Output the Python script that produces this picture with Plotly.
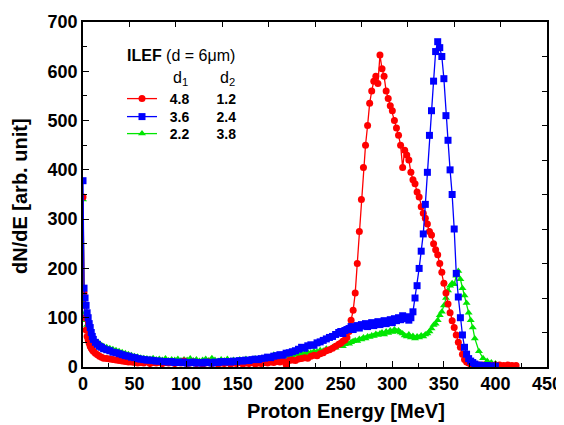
import plotly.graph_objects as go

# Energy grid (MeV)
energy = [0, 1, 2, 3, 4, 5, 6, 7, 8, 9, 10, 12, 14, 16, 18, 20,
          23, 26, 29, 32, 35, 38, 41, 44, 47, 50, 53, 56, 59, 62, 65, 68, 71, 74, 77, 80,
          83, 86, 89, 92, 95, 98, 101, 104, 107, 110, 113, 116, 119, 122, 125, 128, 131, 134, 137, 140,
          143, 146, 149, 152, 155, 158, 161, 164, 167, 170, 173, 176, 179, 182, 185, 188, 191, 194, 197, 200,
          203, 206, 209, 212, 215, 218, 221, 224, 227, 230, 233, 236, 239, 242, 245, 248,
          250, 252, 254, 256, 258, 260, 262, 264, 266, 268, 270, 272, 274, 276, 278, 280, 282, 284, 286, 288,
          290, 292, 294, 296, 298, 300, 302, 304, 306, 308, 310, 312, 314, 316, 318, 320, 322, 324, 326, 328,
          330, 332, 334, 336, 338, 340, 342, 344, 346, 348, 350, 352, 354, 356, 358, 360, 362, 364, 366, 368,
          370, 372, 374, 376, 378, 380,
          384, 388, 392, 396, 400, 404, 408, 412, 416, 420]

# d1 = 4.8, d2 = 1.2 (red)
red = [345, 150, 100, 75, 62, 55, 48, 42, 38, 35, 32, 28, 25, 22, 20, 18,
       17, 16, 15, 14, 13, 12, 11, 10, 10, 9, 8, 9, 8, 12, 7, 9, 8, 10, 7, 9,
       8, 10, 7, 9, 8, 12, 7, 8, 10, 7, 9, 6, 8, 10, 7, 9, 6, 8, 7, 9,
       6, 8, 7, 9, 6, 8, 7, 9, 6, 8, 7, 9, 8, 10, 9, 11, 10, 12, 5, 13,
       14, 13, 16, 17, 19, 18, 22, 24, 23, 27, 29, 33, 35, 38, 42, 46,
       48, 52, 55, 60, 72, 95, 115, 150, 210, 275, 340, 405, 450, 490, 535, 560, 580, 590, 575, 633,
       605, 590, 560, 545, 530, 520, 500, 485, 470, 450, 405, 440, 430, 420, 395, 380, 372, 355, 345, 325,
       312, 302, 290, 275, 268, 250, 238, 228, 210, 192, 170, 150, 128, 110, 94, 80, 65, 50, 40, 26,
       15, 10, 8, 6, 5, 5,
       4, 4, 3, 3, 4, 4, 3, 4, 3, 3]

# d1 = 3.6, d2 = 2.4 (blue)
blue = [378, 160, 140, 125, 110, 100, 88, 80, 70, 62, 56, 50, 46, 42, 40, 37,
        35, 33, 30, 29, 27, 25, 23, 22, 20, 19, 17, 16, 15, 14, 14, 13, 12, 12, 11, 11,
        10, 11, 9, 10, 9, 10, 8, 9, 10, 8, 9, 8, 10, 9, 8, 10, 9, 11, 10, 11,
        10, 12, 11, 13, 12, 14, 13, 15, 16, 15, 17, 18, 20, 19, 22, 23, 25, 24, 28, 29,
        31, 33, 36, 40, 38, 43, 45, 44, 49, 51, 54, 57, 60, 62, 66, 70,
        72, 68, 74, 76, 78, 82, 76, 80, 84, 79, 86, 83, 88, 82, 85, 90, 84, 88, 92, 86,
        90, 94, 88, 92, 96, 90, 98, 94, 100, 96, 104, 98, 102, 95, 100, 112, 140, 165, 200, 235,
        270, 330, 395, 470, 520, 580, 640, 660, 648, 630, 585, 510, 460, 400, 350, 280, 190, 142, 100, 65,
        40, 26, 17, 12, 9, 6,
        4, 3, 3, 2, 2, None, None, None, None, None]

# d1 = 2.2, d2 = 3.8 (green)
green = [340, 130, 110, 95, 85, 78, 72, 66, 62, 58, 55, 52, 50, 47, 44, 42,
         40, 38, 36, 34, 32, 30, 28, 26, 24, 22, 21, 19, 18, 17, 16, 18, 15, 16, 14, 17,
         13, 15, 14, 16, 13, 15, 14, 17, 13, 15, 12, 14, 16, 13, 18, 14, 12, 15, 13, 16,
         12, 14, 13, 15, 14, 16, 13, 15, 17, 14, 16, 18, 15, 19, 25, 18, 20, 22, 21, 24,
         23, 26, 25, 28, 27, 30, 29, 32, 31, 34, 33, 37, 36, 40, 39, 43,
         44, 42, 46, 48, 47, 50, 52, 54, 53, 57, 56, 60, 58, 62, 61, 64, 63, 67, 65, 68,
         70, 66, 72, 69, 74, 71, 76, 72, 74, 70, 68, 64, 62, 66, 60, 63, 58, 62, 60, 64,
         62, 66, 68, 72, 78, 85, 88, 95, 105, 112, 125, 140, 155, 165, 170, 168, 185, 195, 178, 160,
         145, 130, 110, 95, 80, 58,
         32, 18, 12, 9, 7, None, None, None, None, None]

d1_values = ["4.8", "3.6", "2.2"]
d2_values = ["1.2", "2.4", "3.8"]
series_names = ["<b>&nbsp;&nbsp;" + a + "&nbsp;" * 7 + b + "</b>" for a, b in zip(d1_values, d2_values)]
colors = ["#ff0000", "#0000ff", "#00e600"]
symbols = ["circle", "square", "triangle-up"]
legend_ids = ["legend", "legend2", "legend3"]

FONT = "Liberation Sans, Arial, sans-serif"

fig = go.Figure()
data = [red, blue, green]
order = [2, 0, 1]  # draw green first, then red, then blue on top
for i in order:
    fig.add_trace(go.Scatter(
        x=energy, y=data[i], mode="lines+markers", name=series_names[i],
        line=dict(color=colors[i], width=1.3),
        marker=dict(color=colors[i], symbol=symbols[i], size=7, line=dict(width=0)),
        legend=legend_ids[i], connectgaps=False,
    ))

# dummy trace to realise the top/right axes
fig.add_trace(go.Scatter(x=[None], y=[None], xaxis="x2", yaxis="y2",
                         showlegend=False, hoverinfo="skip"))

axis_common = dict(showgrid=False, zeroline=False, showline=True, linecolor="black",
                   linewidth=1.5, ticks="inside", tickcolor="black", tickwidth=1.3,
                   automargin=False)

# plot area occupies x 83..547, y 22..367 of the window (page body adds 8px)
def px_x(p):
    return (p - 83) / 464

def px_y(p):
    return (367 - p) / 345

legend_style = dict(xanchor="left", yanchor="top", bgcolor="rgba(0,0,0,0)",
                    font=dict(size=14), itemsizing="trace")
row_tops = [83, 101, 118]

fig.update_layout(
    width=556, height=417,
    margin=dict(l=75, r=17, t=14, b=58),
    paper_bgcolor="white", plot_bgcolor="white",
    font=dict(family=FONT, color="black"),
    xaxis=dict(range=[0, 450], dtick=50, ticklen=6,
               minor=dict(dtick=25, ticks="inside", ticklen=4, tickcolor="black", tickwidth=1.3),
               tickfont=dict(size=18, family="Liberation Sans", weight="bold"),
               **axis_common),
    yaxis=dict(range=[0, 700], dtick=100, ticklen=6,
               minor=dict(dtick=50, ticks="inside", ticklen=4, tickcolor="black", tickwidth=1.3),
               tickfont=dict(size=18, family="Liberation Sans", weight="bold"),
               **axis_common),
    xaxis2=dict(overlaying="x", side="top", anchor="y", range=[0, 450], dtick=45, ticklen=5,
                showticklabels=False, **axis_common),
    yaxis2=dict(overlaying="y", side="right", anchor="x", range=[0, 700], dtick=70, ticklen=5,
                showticklabels=False, **axis_common),
    showlegend=True,
    legend=dict(x=px_x(122), y=px_y(row_tops[0]), **legend_style),
    legend2=dict(x=px_x(122), y=px_y(row_tops[1]), **legend_style),
    legend3=dict(x=px_x(122), y=px_y(row_tops[2]), **legend_style),
    annotations=[
        dict(text="<b>Proton Energy [MeV]</b>", x=px_x(346), y=px_y(411),
             xref="paper", yref="paper", xanchor="center", yanchor="middle",
             showarrow=False, font=dict(size=20)),
        dict(text="<b>dN/dE [arb. unit]</b>", x=px_x(20), y=px_y(196), textangle=-90,
             xref="paper", yref="paper", xanchor="center", yanchor="middle",
             showarrow=False, font=dict(size=20)),
        dict(text="<b>ILEF</b> (d = 6μm)", x=px_x(125), y=px_y(56),
             xref="paper", yref="paper", xanchor="left", yanchor="middle",
             showarrow=False, font=dict(size=16)),
        dict(text="d<sub>1</sub>", x=px_x(180), y=px_y(78),
             xref="paper", yref="paper", xanchor="center", yanchor="middle",
             showarrow=False, font=dict(size=16)),
        dict(text="d<sub>2</sub>", x=px_x(227), y=px_y(78),
             xref="paper", yref="paper", xanchor="center", yanchor="middle",
             showarrow=False, font=dict(size=16)),
    ],
)

fig.write_html("out.html")
